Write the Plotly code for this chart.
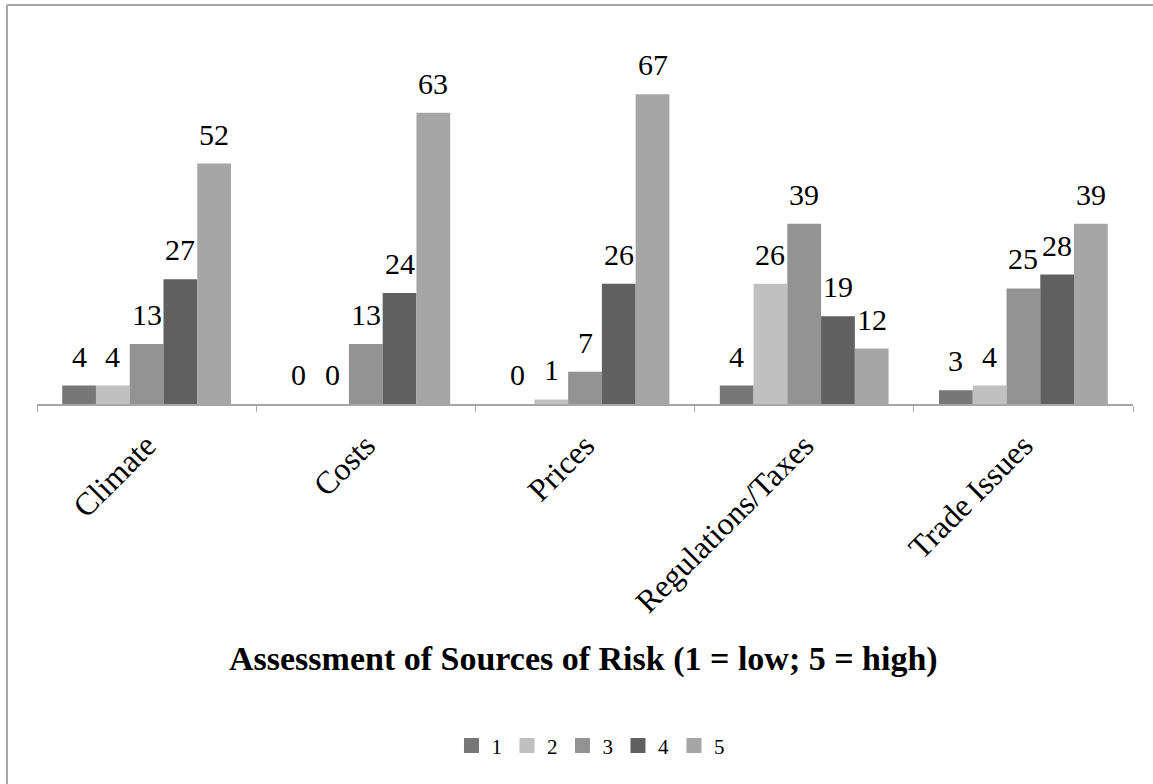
import plotly.graph_objects as go

categories = ["Climate", "Costs", "Prices", "Regulations/Taxes", "Trade Issues"]
series_names = ["1", "2", "3", "4", "5"]
values_1 = [4, 0, 0, 4, 3]
values_2 = [4, 0, 1, 26, 4]
values_3 = [13, 13, 7, 39, 25]
values_4 = [27, 24, 26, 19, 28]
values_5 = [52, 63, 67, 12, 39]
colors = ["#777777", "#c0c0c0", "#939393", "#606060", "#a6a6a6"]

all_values = [values_1, values_2, values_3, values_4, values_5]
FONT = "Liberation Serif, Times New Roman, serif"

W, H = 1153, 784
ML, MR, MT, MB = 37, 20, 34, 380
BARGAP = 0.23
plot_w = W - ML - MR
cat_px = plot_w / len(categories)
bar_px = cat_px * (1 - BARGAP) / len(series_names)

fig = go.Figure()
for name, vals, col in zip(series_names, all_values, colors):
    fig.add_trace(go.Bar(
        x=categories, y=vals, name=name, legendgroup=name, showlegend=False,
        marker=dict(color=col, line=dict(width=0)),
        hoverinfo="x+y+name",
    ))
# legend entries with larger square swatches
for name, col in zip(series_names, colors):
    fig.add_trace(go.Scatter(
        x=[None], y=[None], mode="markers", name=name, legendgroup=name,
        marker=dict(symbol="square", size=15, color=col), showlegend=True,
    ))

# value labels above bars, positioned on data coordinates
for i, vals in enumerate(all_values):
    offset = (i - (len(series_names) - 1) / 2) * bar_px
    for cat, v in zip(categories, vals):
        fig.add_annotation(
            x=cat, y=v, xref="x", yref="y", text=str(v), showarrow=False,
            xanchor="center", yanchor="bottom", xshift=offset, yshift=11,
            font=dict(family=FONT, size=30, color="black"),
        )

fig.update_layout(
    width=W, height=H,
    margin=dict(l=ML, r=MR, t=MT, b=MB),
    paper_bgcolor="white", plot_bgcolor="white",
    barmode="group", bargap=BARGAP, bargroupgap=0,
    font=dict(family=FONT, size=28, color="black"),
    showlegend=True,
    legend=dict(orientation="h", x=0.505, xanchor="center", y=-0.924, yanchor="middle",
                font=dict(family=FONT, size=21, color="black"), itemwidth=30),
)
fig.update_xaxes(
    showline=True, linecolor="#a6a6a6", linewidth=2,
    ticks="outside", tickson="boundaries", ticklen=6, tickcolor="#a6a6a6",
    tickangle=-45, tickfont=dict(family=FONT, size=32, color="black"),
    ticklabelstandoff=8,
    showgrid=False,
)
fig.update_yaxes(range=[0, 80], visible=False, showgrid=False)

fig.add_annotation(
    text="<b>Assessment of Sources of Risk (1 = low; 5 = high)</b>",
    xref="paper", yref="paper", x=0.499, y=-0.69, xanchor="center", yanchor="middle",
    showarrow=False, font=dict(family=FONT, size=34, color="black"),
)
# outer frame lines
fig.add_shape(type="line", xref="paper", yref="paper", x0=-0.0274, x1=1.03, y0=1.0784, y1=1.0784,
              line=dict(color="#a6a6a6", width=2))
fig.add_shape(type="line", xref="paper", yref="paper", x0=-0.0274, x1=-0.0274, y0=1.0784, y1=-1.03,
              line=dict(color="#a6a6a6", width=2))

fig.write_html("out.html", config={"displayModeBar": False},
               post_script="document.body.style.margin='0px';")
